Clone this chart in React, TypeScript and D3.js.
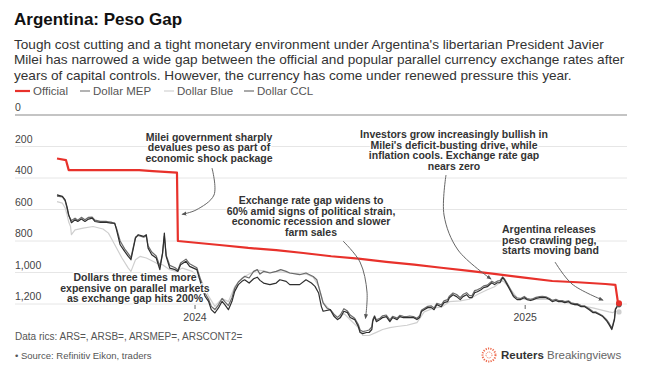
import { useEffect, useRef } from "react";
import * as d3 from "d3";

// Official rate, pesos per dollar
const official: [string, number][] = [
  ["2023-08-01", 276], ["2023-08-11", 287], ["2023-08-14", 350], ["2023-10-31", 350],
  ["2023-11-15", 356], ["2023-12-12", 366], ["2023-12-13", 800], ["2024-01-31", 827],
  ["2024-02-29", 844], ["2024-03-31", 858], ["2024-04-30", 876], ["2024-05-31", 897],
  ["2024-06-30", 912], ["2024-07-31", 932], ["2024-08-31", 950], ["2024-09-30", 970],
  ["2024-10-31", 990], ["2024-11-30", 1010], ["2024-12-31", 1032], ["2025-01-31", 1054],
  ["2025-02-28", 1062], ["2025-03-31", 1073], ["2025-04-11", 1078], ["2025-04-14", 1198],
  ["2025-04-15", 1195],
];

const dollarCcl: [string, number][] = [
  ["2023-08-01", 507], ["2023-08-07", 517], ["2023-08-10", 539], ["2023-08-12", 580],
  ["2023-08-14", 634], ["2023-08-17", 684], ["2023-08-21", 665], ["2023-08-24", 676],
  ["2023-08-28", 661], ["2023-09-01", 676], ["2023-09-05", 661], ["2023-09-09", 655],
  ["2023-09-12", 676], ["2023-09-18", 682], ["2023-09-25", 682], ["2023-09-30", 687],
  ["2023-10-04", 687], ["2023-10-06", 729], ["2023-10-10", 824], ["2023-10-15", 866],
  ["2023-10-19", 898], ["2023-10-22", 919], ["2023-10-27", 781], ["2023-10-30", 760],
  ["2023-11-05", 771], ["2023-11-08", 760], ["2023-11-10", 845], ["2023-11-14", 887],
  ["2023-11-19", 908], ["2023-11-23", 982], ["2023-11-26", 877], ["2023-11-28", 750],
  ["2023-11-30", 898], ["2023-12-04", 972], ["2023-12-10", 982], ["2023-12-13", 993],
  ["2023-12-16", 951], ["2023-12-22", 929], ["2023-12-26", 961], ["2024-01-03", 982],
  ["2024-01-08", 1080], ["2024-01-12", 1150], ["2024-01-16", 1183], ["2024-01-19", 1236],
  ["2024-01-23", 1257], ["2024-01-27", 1225], ["2024-01-31", 1183], ["2024-02-03", 1204],
  ["2024-02-07", 1236], ["2024-02-11", 1183], ["2024-02-14", 1120], ["2024-02-18", 1077],
  ["2024-02-22", 1056], ["2024-02-25", 1046], ["2024-03-01", 1067], ["2024-03-06", 1040],
  ["2024-03-10", 1030], ["2024-03-13", 1050], ["2024-03-17", 1067], ["2024-03-24", 1077],
  ["2024-03-31", 1067], ["2024-04-04", 1046], ["2024-04-11", 1056], ["2024-04-15", 1077],
  ["2024-04-26", 1077], ["2024-05-03", 1046], ["2024-05-09", 1067], ["2024-05-13", 1088],
  ["2024-05-17", 1130], ["2024-05-20", 1215], ["2024-05-22", 1246], ["2024-05-30", 1236],
  ["2024-06-03", 1278], ["2024-06-07", 1299], ["2024-06-10", 1288], ["2024-06-14", 1246],
  ["2024-06-18", 1255], ["2024-06-21", 1286], ["2024-06-26", 1299], ["2024-06-30", 1343],
  ["2024-07-02", 1381], ["2024-07-05", 1388], ["2024-07-09", 1381], ["2024-07-12", 1381],
  ["2024-07-15", 1362], ["2024-07-16", 1312], ["2024-07-18", 1280], ["2024-07-20", 1312],
  ["2024-07-24", 1299], ["2024-07-27", 1286], ["2024-07-31", 1280], ["2024-08-04", 1312],
  ["2024-08-07", 1286], ["2024-08-12", 1299], ["2024-08-15", 1280], ["2024-08-19", 1286],
  ["2024-08-23", 1286], ["2024-08-26", 1286], ["2024-08-30", 1286], ["2024-09-03", 1299],
  ["2024-09-06", 1286], ["2024-09-08", 1248], ["2024-09-11", 1236], ["2024-09-15", 1223],
  ["2024-09-19", 1223], ["2024-09-22", 1236], ["2024-09-25", 1204], ["2024-09-30", 1217],
  ["2024-10-03", 1191], ["2024-10-07", 1185], ["2024-10-09", 1160], ["2024-10-13", 1141],
  ["2024-10-17", 1153], ["2024-10-21", 1172], ["2024-10-24", 1153], ["2024-10-28", 1141],
  ["2024-10-31", 1160], ["2024-11-03", 1160], ["2024-11-06", 1128], ["2024-11-09", 1122],
  ["2024-11-13", 1109], ["2024-11-16", 1096], ["2024-11-20", 1090], ["2024-11-25", 1065],
  ["2024-11-28", 1077], ["2024-12-01", 1065], ["2024-12-04", 1065], ["2024-12-07", 1033],
  ["2024-12-09", 1046], ["2024-12-12", 1077], ["2024-12-15", 1109], ["2024-12-19", 1153],
  ["2024-12-23", 1172], ["2024-12-27", 1172], ["2024-12-31", 1160], ["2025-01-03", 1172],
  ["2025-01-07", 1178], ["2025-01-10", 1172], ["2025-01-13", 1165], ["2025-01-17", 1160],
  ["2025-01-20", 1160], ["2025-01-24", 1160], ["2025-01-28", 1172], ["2025-01-31", 1185],
  ["2025-02-04", 1178], ["2025-02-07", 1185], ["2025-02-11", 1185], ["2025-02-14", 1191],
  ["2025-02-18", 1185], ["2025-02-21", 1198], ["2025-02-25", 1204], ["2025-02-28", 1204],
  ["2025-03-04", 1217], ["2025-03-08", 1217], ["2025-03-13", 1236], ["2025-03-17", 1255],
  ["2025-03-20", 1255], ["2025-03-24", 1267], ["2025-03-28", 1280], ["2025-04-01", 1305],
  ["2025-04-04", 1331], ["2025-04-07", 1362], ["2025-04-08", 1343], ["2025-04-10", 1299],
  ["2025-04-11", 1236], ["2025-04-14", 1204], ["2025-04-15", 1198],
];

const dollarMep: [string, number][] = [
  ["2023-08-01", 515], ["2023-08-07", 520], ["2023-08-10", 545], ["2023-08-12", 590],
  ["2023-08-14", 640], ["2023-08-17", 670], ["2023-08-21", 655], ["2023-08-24", 668],
  ["2023-08-28", 650], ["2023-09-01", 665], ["2023-09-05", 650], ["2023-09-09", 648],
  ["2023-09-12", 668], ["2023-09-18", 675], ["2023-09-25", 676], ["2023-09-30", 680],
  ["2023-10-04", 690], ["2023-10-06", 720], ["2023-10-10", 800], ["2023-10-15", 850],
  ["2023-10-19", 880], ["2023-10-22", 905], ["2023-10-27", 775], ["2023-10-30", 765],
  ["2023-11-05", 775], ["2023-11-08", 770], ["2023-11-10", 830], ["2023-11-14", 870],
  ["2023-11-19", 895], ["2023-11-23", 960], ["2023-11-26", 880], ["2023-11-28", 770],
  ["2023-11-30", 890], ["2023-12-04", 955], ["2023-12-10", 970], ["2023-12-13", 985],
  ["2023-12-16", 940], ["2023-12-22", 915], ["2023-12-26", 945], ["2024-01-03", 970],
  ["2024-01-08", 1060], ["2024-01-12", 1130], ["2024-01-16", 1170], ["2024-01-19", 1215],
  ["2024-01-23", 1235], ["2024-01-27", 1205], ["2024-01-31", 1165], ["2024-02-03", 1185],
  ["2024-02-07", 1210], ["2024-02-11", 1160], ["2024-02-14", 1100], ["2024-02-18", 1060],
  ["2024-02-22", 1040], ["2024-02-25", 1025], ["2024-03-01", 1035], ["2024-03-06", 993],
  ["2024-03-10", 982], ["2024-03-13", 1010], ["2024-03-17", 993], ["2024-03-24", 1003],
  ["2024-03-31", 993], ["2024-04-05", 982], ["2024-04-11", 993], ["2024-04-15", 1003],
  ["2024-04-26", 1014], ["2024-05-03", 1003], ["2024-05-11", 1025], ["2024-05-15", 1046],
  ["2024-05-17", 1088], ["2024-05-20", 1151], ["2024-05-22", 1193], ["2024-05-26", 1225],
  ["2024-05-30", 1236], ["2024-06-03", 1265], ["2024-06-07", 1285], ["2024-06-10", 1270],
  ["2024-06-14", 1230], ["2024-06-18", 1245], ["2024-06-21", 1270], ["2024-06-26", 1290],
  ["2024-06-30", 1330], ["2024-07-02", 1365], ["2024-07-05", 1375], ["2024-07-09", 1370],
  ["2024-07-12", 1365], ["2024-07-15", 1345], ["2024-07-16", 1300], ["2024-07-18", 1275],
  ["2024-07-20", 1300], ["2024-07-24", 1290], ["2024-07-27", 1275], ["2024-07-31", 1270],
  ["2024-08-04", 1300], ["2024-08-07", 1278], ["2024-08-12", 1290], ["2024-08-15", 1272],
  ["2024-08-19", 1278], ["2024-08-23", 1280], ["2024-08-26", 1276], ["2024-08-30", 1280],
  ["2024-09-03", 1290], ["2024-09-06", 1275], ["2024-09-08", 1240], ["2024-09-11", 1228],
  ["2024-09-15", 1215], ["2024-09-19", 1212], ["2024-09-22", 1225], ["2024-09-25", 1196],
  ["2024-09-30", 1205], ["2024-10-03", 1180], ["2024-10-07", 1172], ["2024-10-09", 1150],
  ["2024-10-13", 1130], ["2024-10-17", 1140], ["2024-10-21", 1160], ["2024-10-24", 1140],
  ["2024-10-28", 1128], ["2024-10-31", 1145], ["2024-11-03", 1148], ["2024-11-06", 1115],
  ["2024-11-09", 1110], ["2024-11-13", 1098], ["2024-11-16", 1085], ["2024-11-20", 1080],
  ["2024-11-25", 1055], ["2024-11-28", 1065], ["2024-12-01", 1055], ["2024-12-04", 1052],
  ["2024-12-07", 1028], ["2024-12-09", 1040], ["2024-12-12", 1068], ["2024-12-15", 1100],
  ["2024-12-19", 1145], ["2024-12-23", 1162], ["2024-12-27", 1165], ["2024-12-31", 1152],
  ["2025-01-03", 1165], ["2025-01-07", 1170], ["2025-01-10", 1165], ["2025-01-13", 1158],
  ["2025-01-17", 1153], ["2025-01-20", 1152], ["2025-01-24", 1155], ["2025-01-28", 1165],
  ["2025-01-31", 1178], ["2025-02-04", 1170], ["2025-02-07", 1178], ["2025-02-11", 1178],
  ["2025-02-14", 1185], ["2025-02-18", 1180], ["2025-02-21", 1192], ["2025-02-25", 1198],
  ["2025-02-28", 1198], ["2025-03-04", 1210], ["2025-03-08", 1212], ["2025-03-13", 1230],
  ["2025-03-17", 1248], ["2025-03-20", 1250], ["2025-03-24", 1262], ["2025-03-28", 1275],
  ["2025-04-01", 1298], ["2025-04-04", 1322], ["2025-04-07", 1352], ["2025-04-08", 1335],
  ["2025-04-10", 1290], ["2025-04-11", 1230], ["2025-04-14", 1210], ["2025-04-15", 1205],
];

const dollarBlue: [string, number][] = [
  ["2023-08-01", 550], ["2023-08-07", 560], ["2023-08-10", 590], ["2023-08-12", 630],
  ["2023-08-14", 680], ["2023-08-16", 708], ["2023-08-17", 760], ["2023-08-21", 729],
  ["2023-08-30", 718], ["2023-09-10", 708], ["2023-09-21", 724], ["2023-09-27", 750],
  ["2023-09-30", 781], ["2023-10-06", 845], ["2023-10-12", 908], ["2023-10-19", 972],
  ["2023-10-22", 993], ["2023-10-27", 919], ["2023-11-01", 898], ["2023-11-08", 908],
  ["2023-11-12", 919], ["2023-11-19", 940], ["2023-11-26", 951], ["2023-12-04", 982],
  ["2023-12-11", 993], ["2023-12-18", 972], ["2023-12-29", 993], ["2024-01-08", 1050],
  ["2024-01-16", 1150], ["2024-01-23", 1215], ["2024-01-31", 1165], ["2024-02-07", 1185],
  ["2024-02-14", 1090], ["2024-02-22", 1035], ["2024-03-01", 1010], ["2024-03-10", 985],
  ["2024-03-17", 990], ["2024-03-24", 1000], ["2024-03-31", 995], ["2024-04-11", 1000],
  ["2024-04-26", 1010], ["2024-05-03", 1010], ["2024-05-11", 1030], ["2024-05-17", 1085],
  ["2024-05-22", 1190], ["2024-05-30", 1240], ["2024-06-07", 1300], ["2024-06-14", 1260],
  ["2024-06-21", 1300], ["2024-06-30", 1350], ["2024-07-05", 1400], ["2024-07-12", 1400],
  ["2024-07-20", 1380], ["2024-07-27", 1362], ["2024-08-04", 1350], ["2024-08-12", 1343],
  ["2024-08-23", 1335], ["2024-09-03", 1318], ["2024-09-11", 1250], ["2024-09-22", 1225],
  ["2024-09-30", 1220], ["2024-10-09", 1185], ["2024-10-21", 1180], ["2024-10-31", 1170],
  ["2024-11-09", 1140], ["2024-11-20", 1110], ["2024-11-28", 1090], ["2024-12-07", 1050],
  ["2024-12-15", 1100], ["2024-12-23", 1160], ["2024-12-31", 1170], ["2025-01-13", 1170],
  ["2025-01-28", 1170], ["2025-02-11", 1185], ["2025-02-25", 1205], ["2025-03-08", 1215],
  ["2025-03-17", 1225], ["2025-03-28", 1240], ["2025-04-04", 1250], ["2025-04-08", 1255],
  ["2025-04-11", 1245], ["2025-04-15", 1250],
];

const yTicks = [0, 200, 400, 600, 800, 1000, 1200];
const xTicks = ["2024-01-01", "2025-01-01"];
const xTickLabels = ["2024", "2025"];
const legendLabels = ["Official", "Dollar MEP", "Dollar Blue", "Dollar CCL"];

const subtitle = [
  "Tough cost cutting and a tight monetary environment under Argentina's libertarian President Javier",
  "Milei has narrowed a wide gap between the official and popular parallel currency exchange rates after",
  "years of capital controls. However, the currency has come under renewed pressure this year.",
];

const FONT = "'Liberation Sans', Arial, Helvetica, sans-serif";

const App = () => {
  const svgRef = useRef<SVGSVGElement | null>(null);

  useEffect(() => {
    document.body.style.margin = "0";
    drawChart();
  }, []);

  const drawChart = () => {
    const w = 650;
    const h = 384;
    const parse = d3.timeParse("%Y-%m-%d");

    const svg = d3.select(svgRef.current).attr("width", w).attr("height", h);
    svg.selectAll("*").remove();
    svg.style("font-family", FONT).style("background", "#fff");

    const xScale = d3
      .scaleTime()
      .domain([parse("2023-08-01") as Date, parse("2025-04-15") as Date])
      .range([57, 619]);
    const yScale = d3.scaleLinear().domain([0, 1200]).range([115, 304]);

    // title + subtitle
    svg.append("text").attr("x", 14).attr("y", 25).attr("font-size", 17)
      .attr("font-weight", "bold").attr("fill", "#111").text("Argentina: Peso Gap");
    svg.selectAll(".sub").data(subtitle).join("text")
      .attr("x", 14).attr("y", (d, i) => 48.5 + i * 15.5)
      .attr("font-size", 13.6).attr("fill", "#333").text((d) => d);

    // legend
    const legendColors = ["#e8312b", "#8a8a8a", "#d6d6d6", "#7a7a7a"];
    const legendX = [15, 80, 164, 244];
    const legendLen = [15, 10, 10, 10];
    const lg = svg.append("g").attr("transform", "translate(0,91)");
    legendLabels.forEach((label, i) => {
      lg.append("line").attr("x1", legendX[i]).attr("x2", legendX[i] + legendLen[i])
        .attr("stroke", legendColors[i]).attr("stroke-width", i === 0 ? 2.2 : 1.3);
      lg.append("text").attr("x", legendX[i] + legendLen[i] + 3).attr("y", 4)
        .attr("font-size", 11.5).attr("fill", "#555").text(label);
    });

    // grid + y labels
    svg.selectAll(".grid").data(yTicks).join("line")
      .attr("x1", 15).attr("x2", 627)
      .attr("y1", (d) => yScale(d)).attr("y2", (d) => yScale(d))
      .attr("stroke", (d) => (d === 0 ? "#c4c4c4" : "#e6e6e6"))
      .attr("stroke-width", (d) => (d === 0 ? 2.2 : 1));
    svg.selectAll(".ylab").data(yTicks).join("text")
      .attr("x", 15).attr("y", (d) => yScale(d) - 4)
      .attr("font-size", 10.5).attr("fill", "#444").text((d) => d3.format(",")(d));

    // x ticks
    const xDates = xTicks.map((d) => parse(d) as Date);
    svg.selectAll(".xtick").data(xDates).join("line")
      .attr("x1", (d) => xScale(d)).attr("x2", (d) => xScale(d))
      .attr("y1", 305).attr("y2", 309).attr("stroke", "#666");
    svg.selectAll(".xlab").data(xDates).join("text")
      .attr("x", (d) => xScale(d)).attr("y", 321).attr("text-anchor", "middle")
      .attr("font-size", 10.5).attr("fill", "#444").text((d, i) => xTickLabels[i]);

    // lines
    const line = d3.line<[string, number]>()
      .x((d) => xScale(parse(d[0]) as Date))
      .y((d) => yScale(d[1]));
    const series: { data: [string, number][]; color: string; width: number }[] = [
      { data: dollarBlue, color: "#cfcfcf", width: 1.2 },
      { data: dollarMep, color: "#6a6a6a", width: 1.2 },
      { data: dollarCcl, color: "#2e2e2e", width: 1.2 },
      { data: official, color: "#e8312b", width: 2.2 },
    ];
    series.forEach((s) => {
      svg.append("path").datum(s.data).attr("d", line)
        .attr("fill", "none").attr("stroke", s.color)
        .attr("stroke-width", s.width).attr("stroke-linejoin", "round");
    });
    series.forEach((s) => {
      const last = s.data[s.data.length - 1];
      svg.append("circle").attr("cx", xScale(parse(last[0]) as Date)).attr("cy", yScale(last[1]))
        .attr("r", s.data === official ? 3 : 2.6).attr("fill", s.color);
    });

    // annotations
    const defs = svg.append("defs");
    defs.append("marker").attr("id", "ah").attr("viewBox", "0 0 10 10")
      .attr("refX", 8).attr("refY", 5).attr("markerWidth", 5).attr("markerHeight", 5)
      .attr("orient", "auto-start-reverse")
      .append("path").attr("d", "M0,1 L10,5 L0,9 z").attr("fill", "#555");

    const notes = [
      { lines: ["Milei government sharply", "devalues peso as part of", "economic shock package"],
        x: 209, y: 140.5, anchor: "middle",
        arrow: [[212, 168], [214, 195], [196, 210]], to: ["2023-12-18", 630] },
      { lines: ["Exchange rate gap widens to", "60% amid signs of political strain,", "economic recession and slower", "farm sales"],
        x: 311, y: 204, anchor: "middle",
        arrow: [[343, 241], [360, 262], [367, 292]], to: ["2024-07-08", 1290] },
      { lines: ["Investors grow increasingly bullish in", "Milei's deficit-busting drive, while", "inflation cools. Exchange rate gap", "nears zero"],
        x: 454, y: 138, anchor: "middle",
        arrow: [[446, 175], [444, 215], [458, 250]], to: ["2024-11-24", 1041] },
      { lines: ["Argentina releases", "peso crawling peg,", "starts moving band"],
        x: 502, y: 233, anchor: "start",
        arrow: [[555, 262], [572, 284]], to: ["2025-03-28", 1175] },
      { lines: ["Dollars three times more", "expensive on parallel markets", "as exchange gap hits 200%"],
        x: 135, y: 281, anchor: "middle", arrow: null, to: null },
    ];

    const arrowLine = d3.line().curve(d3.curveCatmullRom.alpha(0.5));
    notes.forEach((n) => {
      if (n.arrow && n.to) {
        const pts = [...n.arrow, [xScale(parse(n.to[0] as string) as Date), yScale(n.to[1] as number)]];
        svg.append("path").attr("d", arrowLine(pts as [number, number][]))
          .attr("fill", "none").attr("stroke", "#666").attr("stroke-width", 1)
          .attr("marker-end", "url(#ah)");
      }
      const t = svg.append("text").attr("text-anchor", n.anchor)
        .attr("font-size", 10.5).attr("font-weight", "bold").attr("fill", "#333")
        .attr("stroke", "#fff").attr("stroke-width", 2.5).attr("stroke-linejoin", "round")
        .attr("paint-order", "stroke");
      n.lines.forEach((l, i) => {
        t.append("tspan").attr("x", n.x).attr("y", n.y + i * 10.6).text(l);
      });
    });

    // footer
    svg.append("text").attr("x", 15).attr("y", 340).attr("font-size", 10)
      .attr("fill", "#555").text("Data rics: ARS=, ARSB=, ARSMEP=, ARSCONT2=");
    svg.append("text").attr("x", 15).attr("y", 359).attr("font-size", 9.5)
      .attr("fill", "#555").text("• Source: Refinitiv Eikon, traders");

    // logo
    const logo = svg.append("g").attr("transform", "translate(489,355)");
    logo.append("circle").attr("r", 6.5).attr("fill", "none").attr("stroke", "#ee6a4d")
      .attr("stroke-width", 2).attr("stroke-dasharray", "1.2 1.2");
    logo.append("circle").attr("r", 3).attr("fill", "none").attr("stroke", "#ee6a4d")
      .attr("stroke-width", 1).attr("stroke-dasharray", "1 1");
    const lt = logo.append("text").attr("x", 12).attr("y", 4).attr("font-size", 11.5);
    lt.append("tspan").attr("font-weight", "bold").attr("fill", "#333").text("Reuters");
    lt.append("tspan").attr("fill", "#666").text(" Breakingviews");
  };

  return <svg ref={svgRef}></svg>;
};

export default App;
